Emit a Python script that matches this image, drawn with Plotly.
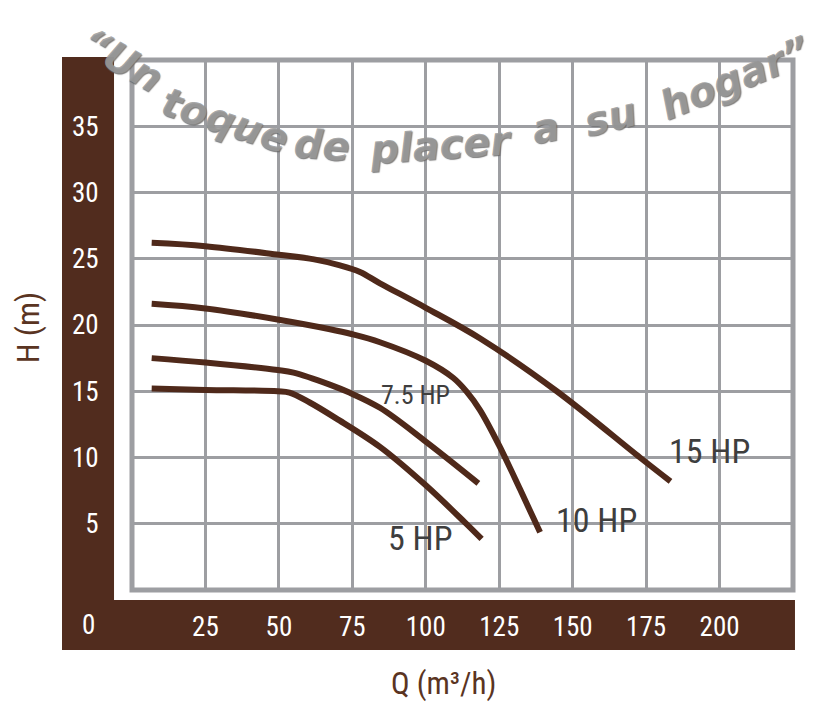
import plotly.graph_objects as go

# ---- data ----
q_5hp = [6.7, 25, 49.6, 53.6, 60.5, 69.5, 84.4, 100, 113.3, 119]
h_5hp = [15.2, 15.1, 15.0, 14.9, 14.15, 12.95, 10.8, 7.9, 5.1, 3.85]

q_75hp = [6.7, 25, 49.6, 55, 67.3, 74, 84.4, 100, 117.9]
h_75hp = [17.5, 17.17, 16.6, 16.4, 15.5, 14.9, 13.75, 11.2, 8.05]

q_10hp = [6.7, 25, 50, 67, 75, 84.4, 100, 109.4, 113.9, 118.4, 125, 132.1, 138.9]
h_10hp = [21.6, 21.25, 20.4, 19.7, 19.3, 18.7, 17.3, 16.0, 14.97, 13.6, 10.9, 7.6, 4.35]

q_15hp = [6.7, 25, 50, 62, 70.8, 77.6, 84.4, 100, 118.4, 144.6, 172.9, 183.3]
h_15hp = [26.2, 25.95, 25.3, 24.95, 24.5, 24.0, 23.15, 21.3, 19.0, 15.0, 10.0, 8.2]

series_names = ["5 HP", "7.5 HP", "10 HP", "15 HP"]
label_q = [98.2, 96.5, 158.2, 196.7]
label_h = [3.9, 14.7, 5.3, 10.5]
label_sizes = [34, 26, 34, 34]

x_ticks = [25, 50, 75, 100, 125, 150, 175, 200]
y_ticks = [5, 10, 15, 20, 25, 30, 35]

watermark_words = ["\u201cUn", "toque", "de", "placer", "a", "su", "hogar\u201d"]

# ---- style ----
BROWN = "#512c1e"
LINE = "#4f291a"
GRID = "#9d9ea2"
FONT = "Roboto Condensed, Liberation Sans Narrow, Roboto, sans-serif"

fig = go.Figure()
for q, h, name in zip([q_5hp, q_75hp, q_10hp, q_15hp],
                      [h_5hp, h_75hp, h_10hp, h_15hp], series_names):
    fig.add_trace(go.Scatter(x=q, y=h, mode="lines", name=name,
                             line=dict(color=LINE, width=6, shape="spline", smoothing=1.0),
                             showlegend=False, hoverinfo="skip"))

annotations = []
for name, xq, yh, s in zip(series_names, label_q, label_h, label_sizes):
    annotations.append(dict(x=xq, y=yh, xref="x", yref="y", text=name, showarrow=False,
                            font=dict(family=FONT, size=s, color="#3e3e3e"),
                            xanchor="center", yanchor="middle"))

# axis titles and the "0" label in the bar
annotations.append(dict(x=-0.157, y=0.496, xref="paper", yref="paper", text="H (m)",
                        showarrow=False, textangle=-90,
                        font=dict(family=FONT, size=32, color="#5a3422"),
                        xanchor="center", yanchor="middle"))
annotations.append(dict(x=0.472, y=-0.177, xref="paper", yref="paper", text="Q (m³/h)",
                        showarrow=False, font=dict(family=FONT, size=31, color="#5a3422"),
                        xanchor="center", yanchor="middle"))
annotations.append(dict(x=-0.0658, y=-0.066, xref="paper", yref="paper", text="0",
                        showarrow=False, font=dict(family=FONT, size=27, color="white"),
                        xanchor="center", yanchor="middle"))

# watermark words (reference pixel positions converted to paper)
wm_px = [(122, 60), (225, 120), (322, 145), (440, 145), (545, 128), (610, 117), (735, 78)]
wm_ang = [30, 18, 4, -4, -10, -14, -22]
for w, (px, py), a in zip(watermark_words, wm_px, wm_ang):
    annotations.append(dict(x=(px - 132) / 661, y=(590 - py) / 530, xref="paper", yref="paper",
                            text=w, showarrow=False, textangle=a,
                            font=dict(family="DejaVu Sans", size=40, color="rgba(155,155,155,0.85)",
                                      style="italic", weight="bold",
                                      shadow="1px 1px 1px #666"),
                            xanchor="center", yanchor="middle"))

shapes = [
    dict(type="rect", xref="paper", yref="paper", x0=-0.1059, x1=-0.0272, y0=-0.1132, y1=1.0057,
         fillcolor=BROWN, line=dict(width=0), layer="below"),
    dict(type="rect", xref="paper", yref="paper", x0=-0.1059, x1=1.003, y0=-0.1132, y1=-0.0189,
         fillcolor=BROWN, line=dict(width=0), layer="below"),
    dict(type="rect", xref="paper", yref="paper", x0=0, x1=1, y0=0, y1=1,
         line=dict(color=GRID, width=5), fillcolor="rgba(0,0,0,0)", layer="below"),
]

fig.update_layout(
    width=808, height=695, autosize=False,
    margin=dict(l=124, r=23, t=52, b=113),
    paper_bgcolor="white", plot_bgcolor="white",
    annotations=annotations, shapes=shapes,
    xaxis=dict(range=[0, 225], tickvals=x_ticks, ticktext=[str(v) for v in x_ticks],
               showgrid=True, gridcolor=GRID, gridwidth=3, zeroline=False,
               ticks="outside", ticklen=13, tickcolor="rgba(0,0,0,0)",
               tickfont=dict(family=FONT, size=27, color="white"), showline=False,
               fixedrange=True),
    yaxis=dict(range=[0, 40], tickvals=y_ticks, ticktext=[str(v) for v in y_ticks],
               showgrid=True, gridcolor=GRID, gridwidth=3, zeroline=False,
               ticks="outside", ticklen=27, tickcolor="rgba(0,0,0,0)",
               tickfont=dict(family=FONT, size=27, color="white"), showline=False,
               fixedrange=True),
)

fig.write_html("out.html")
